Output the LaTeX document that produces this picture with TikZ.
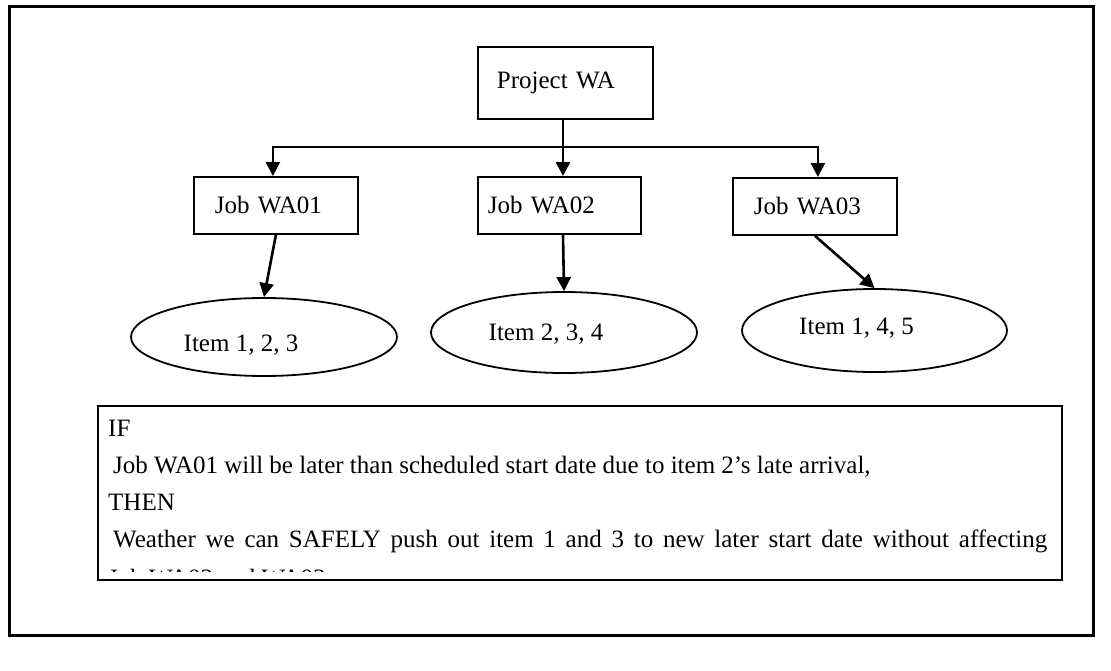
\documentclass[tikz,border=0pt]{standalone}
\usepackage{fontspec}
\setmainfont{Liberation Serif}
\usetikzlibrary{arrows.meta,shapes.geometric,calc}
\tikzset{
  txt/.style={font=\fontsize{25pt}{30pt}\selectfont},
  box/.style={draw, line width=1.8pt, rectangle, anchor=north west, txt, align=left, inner ysep=0pt},
  oval/.style={draw, line width=1.8pt, ellipse, inner sep=0pt},
  conn/.style={line width=2.6pt},
  arr/.style={conn, -{Triangle[length=14pt,width=14pt]}},
  line/.style={txt, anchor=base west, inner sep=0pt},
}
\begin{document}
\begin{tikzpicture}[x=1pt,y=-1pt]
\useasboundingbox (0,0) rectangle (1111,670);
% outer frame
\node[draw, line width=2.6pt, anchor=north west, minimum width=1084pt, minimum height=629pt, inner sep=0pt] (frame) at (8,5) {};
% project and jobs
\node[box, minimum height=72pt, text width=137pt, inner xsep=19pt] (pw) at (477,46) {\raisebox{-4pt}{Project WA}};
\node[box, minimum height=57pt, text width=122pt, inner xsep=21pt] (wa01) at (193,176) {Job WA01};
\node[box, minimum height=57pt, text width=143pt, inner xsep=10pt] (wa02) at (477,176) {Job WA02};
\node[box, minimum height=57pt, text width=122pt, inner xsep=21pt] (wa03) at (732,177) {Job WA03};
% item ovals
\node[oval, minimum width=266pt, minimum height=78pt,
  label={[txt, xshift=-23pt, yshift=-8pt]center:Item 1, 2, 3}] (e1) at (264,337) {};
\node[oval, minimum width=266pt, minimum height=81pt,
  label={[txt, xshift=-18pt, yshift=-2pt]center:Item 2, 3, 4}] (e2) at (564,332.5) {};
\node[oval, minimum width=265pt, minimum height=83pt,
  label={[txt, xshift=-18pt, yshift=2pt]center:Item 1, 4, 5}] (e3) at (874.5,330.5) {};
% connectors
\coordinate (j) at (563,147);
\draw[conn] (pw.south -| j) -- (j);
\draw[arr] (j) -| ([xshift=-3pt]wa01.north);
\draw[arr] (j) -| ([xshift=3pt]wa03.north);
\draw[arr] (j) -- (j |- wa02.north);
\draw[arr] (wa01.south) -- (e1.north);
\draw[arr] (wa02.south -| j) -- (e2.north);
\draw[arr] (wa03.south) -- (e3.north);
% condition box
\node[draw, line width=1.8pt, anchor=north west, minimum width=964pt, minimum height=174pt, inner sep=0pt] (cond) at (97,405) {};
\node[line] (l1) at (108,436) {IF};
\node[line] (l2) at (113,473) {Job WA01 will be later than scheduled start date due to item 2’s late arrival,};
\node[line] (l3) at (108,510) {THEN};
\node[line] (l4) at (113,547) {\makebox[934pt][s]{Weather we can SAFELY push out item 1 and 3 to new later start date without affecting}};
\begin{scope}
  \clip (97,405) rectangle (1061,571);
  \node[line] (l5) at (108,586) {Job WA02 and WA03};
\end{scope}
\end{tikzpicture}
\end{document}
